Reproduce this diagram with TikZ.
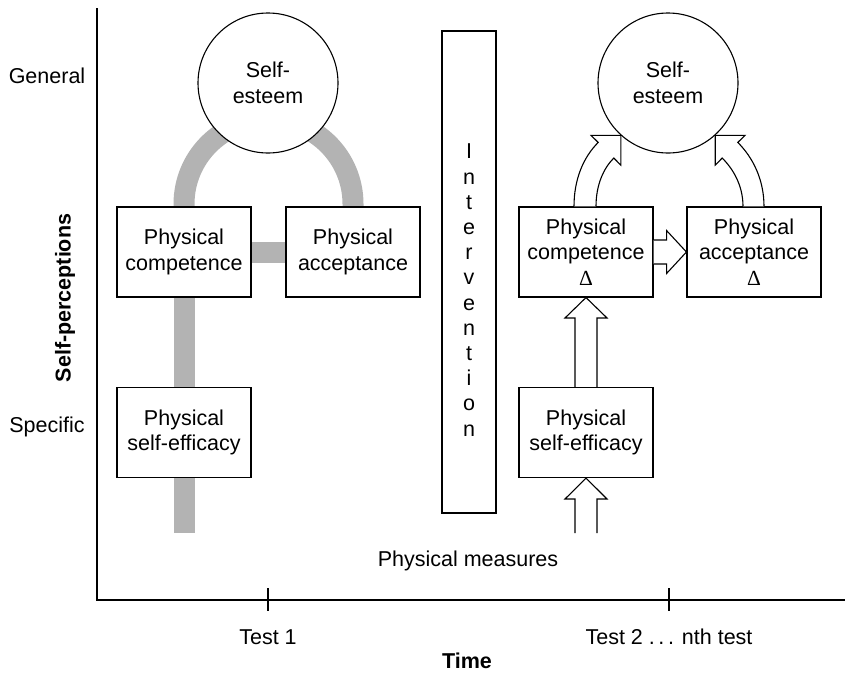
\documentclass[tikz,border=0pt]{standalone}
\usepackage{fontspec}
\setmainfont{Liberation Sans}
\newfontfamily\deltafont{Liberation Serif}
\usetikzlibrary{calc,backgrounds}
\definecolor{bandgray}{HTML}{B3B3B3}
\begin{document}
\begin{tikzpicture}[x=1pt,y=-1pt,
  every node/.style={font=\fontsize{21.5}{25.7}\selectfont},
  box/.style={draw, line width=1.1pt, fill=white, minimum width=134pt, minimum height=90pt, align=center, inner sep=0pt},
  ring/.style={draw, circle, line width=1.1pt, fill=white, minimum size=140pt, inner sep=0pt, align=center},
  band/.style={draw=bandgray, line width=21pt},
  hollow/.style={draw, line width=1.1pt, fill=white, line join=miter},
  axisline/.style={line width=1.1pt},
  lab/.style={anchor=base}]
\useasboundingbox (0,0) rectangle (845,673);

% axes
\coordinate (ytop) at (97,8);
\coordinate (orig) at (97,600);
\coordinate (xend) at (845,600);
\draw[axisline] (ytop) -- (orig) -- (xend);
\coordinate (t1a) at (268,588); \coordinate (t1b) at (268,611);
\coordinate (t2a) at (669,588); \coordinate (t2b) at (669,611);
\draw[axisline] (t1a) -- (t1b);
\draw[axisline] (t2a) -- (t2b);

% axis labels
\node[lab] (gen) at (47,83) {General};
\node[lab] (spec) at (47,432) {Specific};
\node[rotate=90, font=\fontsize{21.5}{25}\selectfont\bfseries] (yl) at (65,298) {Self-perceptions};
\node[lab] (test1) at (268,644) {Test 1};
\node[lab] (test2) at (669,644) {Test 2 .\,.\,. nth test};
\node[lab, font=\fontsize{21.5}{25}\selectfont\bfseries] (time) at (467,668) {Time};
\node[lab] (pm) at (468,566) {Physical measures};

% left (Test 1)
\node[ring] (lse) at (268,83) {Self-\\esteem};
\node[box] (lcomp) at (184,252) {Physical\\competence};
\node[box] (lacc) at (353,252) {Physical\\acceptance};
\node[box] (leff) at (184,432.5) {Physical\\self-efficacy};
\coordinate (lbot) at (184,533);

\begin{scope}[on background layer]
  \draw[band] (lcomp.center) -- (lbot);
  \draw[band] (lcomp.center) -- (lacc.center);
  \draw[band] (lcomp.center) -- (184,204) arc[start angle=180, end angle=360, radius=84.5] -- (lacc.center);
\end{scope}

% intervention
\node[draw, line width=1.1pt, fill=white, minimum width=54pt, minimum height=482pt, inner sep=0pt] (interv) at (469,272) {};
\node[align=center, font=\fontsize{21.5}{25.2}\selectfont] (intxt) at (469,290) {I\\n\\t\\e\\r\\v\\e\\n\\t\\i\\o\\n};

% right (Test 2)
\node[ring] (rse) at (668,83) {Self-\\esteem};
\node[box] (rcomp) at (586,252) {Physical\\competence\\{\deltafont Δ}};
\node[box] (racc) at (754,252) {Physical\\acceptance\\{\deltafont Δ}};
\node[box] (reff) at (586,432.5) {Physical\\self-efficacy};
\coordinate (rbot) at (586,533);

% straight hollow arrows
\draw[hollow] ($(reff.north)+(-11,0)$) -- ($(reff.north)+(-11,-69)$) -- ($(reff.north)+(-21,-69)$)
  -- (rcomp.south) -- ($(reff.north)+(21,-69)$) -- ($(reff.north)+(11,-69)$) -- ($(reff.north)+(11,0)$);
\draw[hollow] ($(rbot)+(-11,0)$) -- ($(rbot)+(-11,-34)$) -- ($(rbot)+(-21,-34)$)
  -- (reff.south) -- ($(rbot)+(21,-34)$) -- ($(rbot)+(11,-34)$) -- ($(rbot)+(11,0)$);
\draw[hollow] ($(rcomp.east)+(0,-12)$) -- ($(rcomp.east)+(13,-12)$) -- ($(rcomp.east)+(13,-21.5)$)
  -- (racc.west) -- ($(rcomp.east)+(13,21.5)$) -- ($(rcomp.east)+(13,12)$) -- ($(rcomp.east)+(0,12)$);

% curved hollow arrows
\coordinate (T1) at (rse.228);
\coordinate (T2) at (rse.312);
\draw[hollow] ($(rcomp.north)+(-12,0)$) .. controls ($(rcomp.north)+(-12,-27)$) and ($(T1)+(-37.6,22)$) .. ($(T1)+(-22.6,7)$)
  -- ($(T1)+(-29.7,0)$) -- (T1) -- ($(T1)+(0,29.7)$) -- ($(T1)+(-7,22.6)$)
  .. controls ($(T1)+(-17,32.6)$) and ($(rcomp.north)+(10,-22)$) .. ($(rcomp.north)+(10,0)$);
\draw[hollow] ($(racc.north)+(10,0)$) .. controls ($(racc.north)+(10,-27)$) and ($(T2)+(37.6,22)$) .. ($(T2)+(22.6,7)$)
  -- ($(T2)+(29.7,0)$) -- (T2) -- ($(T2)+(0,29.7)$) -- ($(T2)+(7,22.6)$)
  .. controls ($(T2)+(17,32.6)$) and ($(racc.north)+(-11,-22)$) .. ($(racc.north)+(-11,0)$);
\end{tikzpicture}
\end{document}
